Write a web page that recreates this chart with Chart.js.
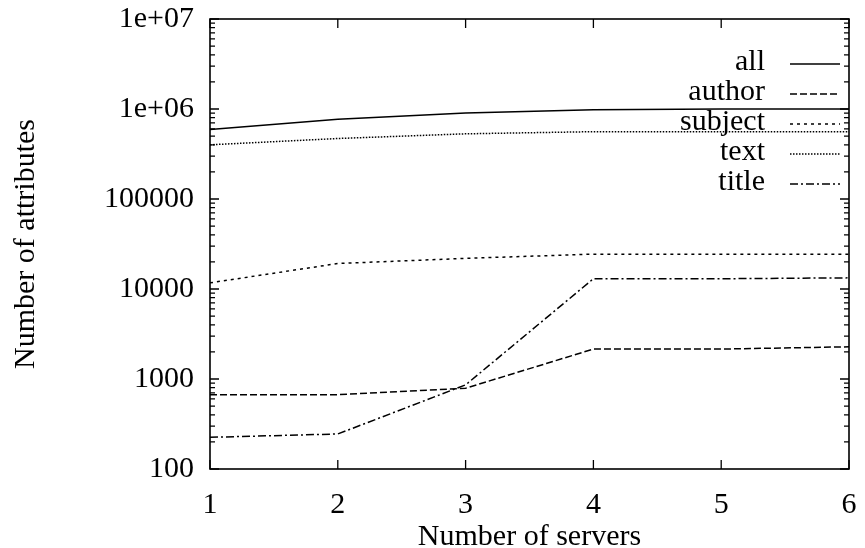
<!DOCTYPE html>
<html>
<head>
<meta charset="utf-8">
<script src="https://cdn.jsdelivr.net/npm/chart.js@4/dist/chart.umd.min.js"></script>
<style>
  html, body { margin: 0; padding: 0; background: #fff; }
  #wrap { width: 865px; height: 548px; position: relative; }
</style>
</head>
<body>
<div id="wrap"><canvas id="attrChart"></canvas></div>
<script>
// data
const servers = [1, 2, 3, 4, 5, 6];
const allAttrs = [590000, 770000, 900000, 980000, 1000000, 1000000];
const authorAttrs = [670, 670, 790, 2150, 2150, 2280];
const subjectAttrs = [11700, 19200, 21900, 24400, 24400, 24400];
const textAttrs = [400000, 470000, 530000, 560000, 560000, 560000];
const titleAttrs = [225, 245, 860, 13000, 13000, 13300];

const seriesNames = ['all', 'author', 'subject', 'text', 'title'];
const yTickValues = [100, 1000, 10000, 100000, 1000000, 10000000];
const yTickLabels = ['100', '1000', '10000', '100000', '1e+06', '1e+07'];
const xTickLabels = ['1', '2', '3', '4', '5', '6'];

const dashes = [[], [7, 3], [3, 4], [1.5, 1.5], [8, 3, 2, 3]];
const seriesValues = [allAttrs, authorAttrs, subjectAttrs, textAttrs, titleAttrs];

Chart.defaults.font.family = '"Liberation Serif", "Times New Roman", serif';
Chart.defaults.font.size = 30;
Chart.defaults.color = '#000';

// gnuplot style frame with inward ticks (major + minor on log axis)
const frameTicks = {
    id: 'frameTicks',
    afterDatasetsDraw(chart) {
        const { ctx, chartArea: a, scales: { x, y } } = chart;
        ctx.save();
        ctx.strokeStyle = '#000';
        ctx.lineWidth = 1.6;
        ctx.strokeRect(a.left, a.top, a.right - a.left, a.bottom - a.top);
        ctx.lineWidth = 1.3;
        ctx.beginPath();
        x.ticks.forEach(t => {
            const px = x.getPixelForValue(t.value);
            ctx.moveTo(px, a.bottom); ctx.lineTo(px, a.bottom - 9);
            ctx.moveTo(px, a.top); ctx.lineTo(px, a.top + 9);
        });
        yTickValues.forEach((d, i) => {
            const last = i === yTickValues.length - 1;
            for (let m = 1; m <= (last ? 1 : 9); m++) {
                const py = y.getPixelForValue(d * m);
                const len = m === 1 ? 9 : 5;
                ctx.moveTo(a.left, py); ctx.lineTo(a.left + len, py);
                ctx.moveTo(a.right, py); ctx.lineTo(a.right - len, py);
            }
        });
        ctx.stroke();
        ctx.restore();
    }
};

// legend: right aligned label, then line sample
const keyBox = {
    id: 'keyBox',
    afterDraw(chart) {
        const { ctx, chartArea: a } = chart;
        ctx.save();
        ctx.font = '30px "Liberation Serif", "Times New Roman", serif';
        ctx.fillStyle = '#000';
        ctx.textAlign = 'right';
        ctx.textBaseline = 'middle';
        chart.data.datasets.forEach((ds, i) => {
            const yy = a.top + 43 + i * 30;
            ctx.fillText(ds.label, a.right - 84, yy);
            ctx.strokeStyle = '#000';
            ctx.lineWidth = 1.5;
            ctx.setLineDash(ds.borderDash);
            ctx.beginPath();
            ctx.moveTo(a.right - 59, yy + 2);
            ctx.lineTo(a.right - 9, yy + 2);
            ctx.stroke();
        });
        ctx.restore();
    }
};

const ctx = document.getElementById('attrChart').getContext('2d');

new Chart(ctx, {
    type: 'line',
    data: {
        datasets: seriesNames.map((name, i) => ({
            label: name,
            data: servers.map((s, j) => ({ x: s, y: seriesValues[i][j] })),
            borderColor: '#000',
            borderWidth: 1.5,
            borderDash: dashes[i],
            pointRadius: 0,
            tension: 0,
            fill: false
        }))
    },
    options: {
        responsive: true,
        maintainAspectRatio: false,
        animation: false,
        layout: { padding: { left: 0, right: 16, top: 19, bottom: 0 } },
        plugins: {
            legend: { display: false },
            tooltip: { enabled: false }
        },
        scales: {
            x: {
                type: 'linear',
                min: 1,
                max: 6,
                grid: { display: false, drawTicks: false },
                border: { display: false },
                ticks: {
                    stepSize: 1,
                    padding: 18,
                    callback: (v) => xTickLabels[servers.indexOf(v)]
                },
                title: {
                    display: true,
                    text: 'Number of servers',
                    padding: { top: 0, bottom: -7 }
                },
                afterFit: (scale) => {
                    scale.height = 79;
                    scale.paddingLeft = 0;
                    scale.paddingRight = 0;
                }
            },
            y: {
                type: 'logarithmic',
                min: 100,
                max: 10000000,
                grid: { display: false, drawTicks: false },
                border: { display: false },
                afterBuildTicks: (scale) => {
                    scale.ticks = yTickValues.map(v => ({ value: v }));
                },
                ticks: {
                    padding: 16,
                    callback: (v) => yTickLabels[yTickValues.indexOf(v)]
                },
                title: {
                    display: true,
                    text: 'Number of attributes',
                    padding: { top: 8, bottom: 0 }
                },
                afterFit: (scale) => {
                    scale.width = 210;
                    scale.paddingTop = 0;
                    scale.paddingBottom = 0;
                }
            }
        }
    },
    plugins: [frameTicks, keyBox]
});
</script>
</body>
</html>
